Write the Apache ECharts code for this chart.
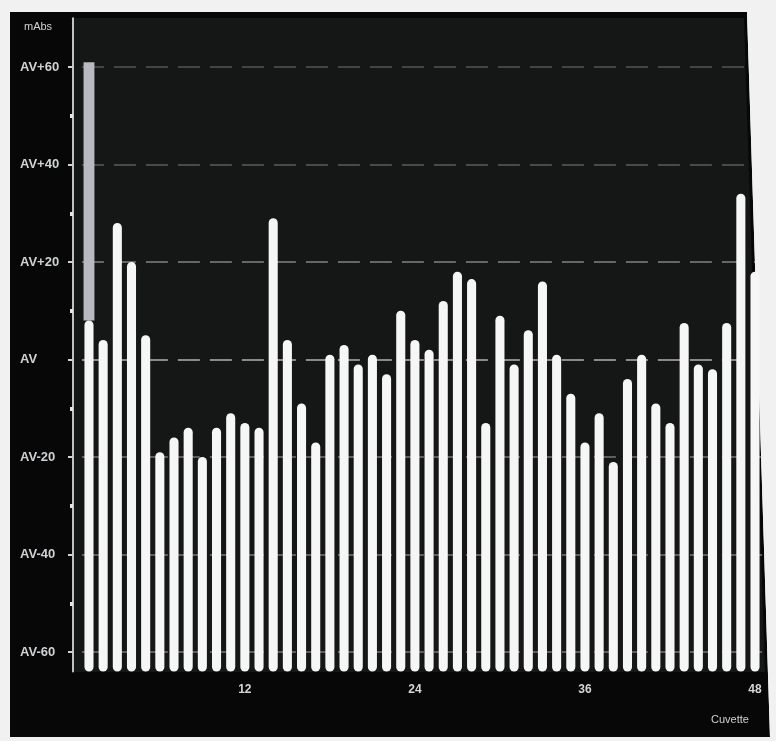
<!DOCTYPE html>
<html>
<head>
<meta charset="utf-8">
<script src="https://cdn.jsdelivr.net/npm/echarts@6/dist/echarts.min.js"></script>
<style>
  html, body { margin: 0; padding: 0; background: #f1f1f1; }
  #chart { width: 776px; height: 741px; }
</style>
</head>
<body>
<div id="chart"></div>
<script>
// Cuvette numbers (x categories)
const cuvettes = ['1','2','3','4','5','6','7','8','9','10','11','12',
                  '13','14','15','16','17','18','19','20','21','22','23','24',
                  '25','26','27','28','29','30','31','32','33','34','35','36',
                  '37','38','39','40','41','42','43','44','45','46','47','48'];
// Deviation from the average value AV, in mAbs, one per cuvette
const deviation = [8, 4, 28, 20, 5, -19, -16, -14, -20, -14, -11, -13,
                   -14, 29, 4, -9, -17, 1, 3, -1, 1, -3, 10, 4,
                   2, 12, 18, 16.5, -13, 9, -1, 6, 16, 1, -7, -17,
                   -11, -21, -4, 1, -9, -13, 7.5, -1, -2, 7.5, 34, 18];
// Selected cuvette and top of its selection marker
const selectedCuvette = '1';
const selectionTop = 61;
// Axis range and tick values
const axisMin = -64;
const axisMax = 70;
const majorTicks = [-60, -40, -20, 0, 20, 40, 60];
const minorTicks = [-50, -30, -10, 10, 30, 50];
const labelledCuvettes = ['12', '24', '36', '48'];

const chart = echarts.init(document.getElementById('chart'), null, { renderer: 'canvas' });

const seriesData = cuvettes.map((c, i) => [i, deviation[i]]);
const selectedIndex = cuvettes.indexOf(selectedCuvette);

function avLabel(v) {
  if (v === 0) return 'AV';
  return v > 0 ? 'AV+' + v : 'AV' + v;
}

const option = {
  backgroundColor: 'transparent',
  animation: false,
  graphic: [
    { type: 'polygon', z: -20, silent: true,
      shape: { points: [[10, 12], [747, 12], [770, 737], [10, 737]] },
      style: { fill: '#070707' } },
    { type: 'polygon', z: -19, silent: true,
      shape: { points: [[74, 18], [744, 18], [765, 672], [74, 672]] },
      style: { fill: '#151616' } },
    { type: 'polygon', z: 3, silent: true,
      shape: { points: [[746.6, 0], [776, 0], [776, 741], [770.1, 741]] },
      style: { fill: '#f1f1f1' } }
  ],
  title: [
    { text: 'mAbs', left: 19, top: 16,
      textStyle: { color: '#cfd2d4', fontSize: 11, fontWeight: 'normal', fontFamily: 'Liberation Sans' } },
    { text: 'Cuvette', left: 706, top: 709,
      textStyle: { color: '#cfd2d4', fontSize: 11, fontWeight: 'normal', fontFamily: 'Liberation Sans' } }
  ],
  grid: { left: 81.9, right: 13.9, top: 18.25, bottom: 69.5, containLabel: false },
  xAxis: {
    type: 'category',
    data: cuvettes,
    boundaryGap: true,
    axisLine: { show: false },
    axisTick: { show: false },
    splitLine: { show: false },
    axisLabel: {
      interval: (idx, val) => labelledCuvettes.indexOf(val) >= 0,
      color: '#d4d6d8', fontSize: 12, fontWeight: 'bold', margin: 12,
      fontFamily: 'Liberation Sans'
    }
  },
  yAxis: [
    {
      type: 'value', position: 'left', offset: 8.9,
      min: axisMin, max: axisMax,
      axisLine: { show: true, lineStyle: { color: '#bfc3c6', width: 2 } },
      axisTick: { show: true, customValues: majorTicks, length: 5, lineStyle: { color: '#d0d3d5', width: 2 } },
      axisLabel: {
        customValues: majorTicks,
        formatter: avLabel, align: 'left', margin: 53,
        color: '#cfd2d4', fontSize: 13, fontWeight: 'bold', fontFamily: 'Liberation Sans'
      },
      splitLine: {
        show: true,
        lineStyle: { color: ['#5e5e5e', '#5e5e5e', '#5e5e5e', '#8a8a8a', '#666666', '#4a4a4a', '#444444'],
                     width: 2, type: [22, 10] }
      }
    },
    {
      type: 'value', position: 'left', offset: 8.9,
      min: axisMin, max: axisMax,
      axisLine: { show: false },
      axisTick: { show: true, customValues: minorTicks, length: 3, inside: false,
                  lineStyle: { color: '#e6e6e6', width: 4 } },
      axisLabel: { show: false },
      splitLine: { show: false }
    }
  ],
  series: [{
    type: 'custom',
    name: 'Deviation',
    xAxisIndex: 0,
    yAxisIndex: 0,
    data: seriesData,
    encode: { x: 0, y: 1 },
    z: 5,
    renderItem: function (params, api) {
      const i = api.value(0);
      const v = api.value(1);
      const top = api.coord([i, v]);
      const base = api.coord([i, axisMin]);
      const w = api.size([1, 0])[0] * 0.64;
      const children = [];
      if (i === selectedIndex) {
        const sel = api.coord([i, selectionTop]);
        children.push({
          type: 'rect',
          shape: { x: top[0] - w * 0.6, y: sel[1], width: w * 1.2, height: top[1] - sel[1] },
          style: { fill: '#b7bbbf' }
        });
      }
      children.push({
        type: 'rect',
        shape: { x: top[0] - w / 2, y: top[1], width: w, height: base[1] - top[1], r: w / 2 },
        style: { fill: '#f6f6f6' }
      });
      return { type: 'group', children: children };
    }
  }]
};

chart.setOption(option);
</script>
</body>
</html>
